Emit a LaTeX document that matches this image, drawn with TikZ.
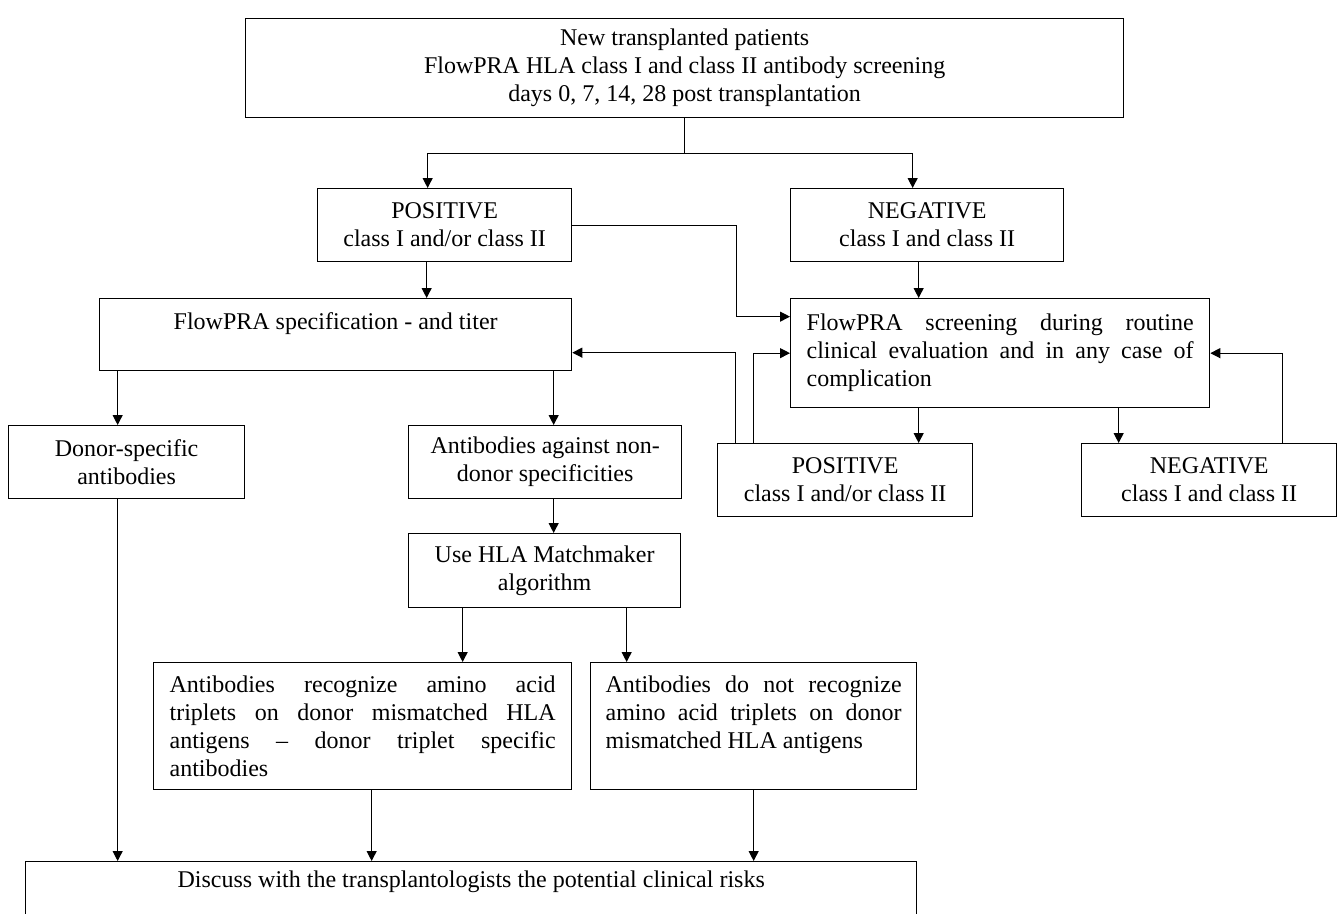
\documentclass[tikz,border=0pt]{standalone}
\usepackage{fontspec}
\setmainfont{Liberation Serif}
\usetikzlibrary{arrows.meta}
\tikzset{
  box/.style={draw, line width=1.3pt, anchor=north west, inner sep=0pt,
    font=\fontsize{24}{28}\selectfont, align=center},
  jbox/.style={box, align=justify, inner ysep=0pt},
  conn/.style={line width=1.1pt},
  arr/.style={conn, -{Triangle[length=10pt,width=10pt]}}
}
\begin{document}
\begin{tikzpicture}[x=1pt,y=-1pt]
\clip (0,0) rectangle (1337,913);
\useasboundingbox (0,0) rectangle (1337,913);
\node[box, minimum width=878, minimum height=99] (top) at (245,18)
  {New transplanted patients\\FlowPRA HLA class I and class II antibody screening\\days 0, 7, 14, 28 post transplantation};
\node[box, minimum width=254, minimum height=73] (pos1) at (317,188) {POSITIVE\\class I and/or class II};
\node[box, minimum width=273, minimum height=73] (neg1) at (790,188) {NEGATIVE\\class I and class II};
\node[box, minimum width=472, minimum height=72] (spec) at (99,298) {FlowPRA specification - and titer\\\mbox{}};
\node[jbox, text width=387pt, inner xsep=16pt, minimum height=109] (scr) at (790,298)
  {FlowPRA screening during routine\linebreak clinical evaluation and in any case of\linebreak complication};
\node[box, minimum width=236, minimum height=73] (don) at (8,425) {Donor-specific\\antibodies};
\node[box, minimum width=273, minimum height=73] (non) at (408,425) {Antibodies against non-\\donor specificities};
\node[box, minimum width=255, minimum height=73] (pos2) at (717,443) {POSITIVE\\class I and/or class II};
\node[box, minimum width=255, minimum height=73] (neg2) at (1081,443) {NEGATIVE\\class I and class II};
\node[box, minimum width=272, minimum height=74] (mm) at (408,533) {Use HLA Matchmaker\\algorithm};
\node[jbox, text width=386pt, inner xsep=16pt, minimum height=127] (recA) at (153,662)
  {Antibodies recognize amino acid\linebreak triplets on donor mismatched HLA\linebreak antigens -- donor triplet specific\linebreak antibodies};
\node[jbox, text width=296pt, inner xsep=15pt, minimum height=127] (recB) at (590,662)
  {Antibodies do not recognize\linebreak amino acid triplets on donor\linebreak mismatched HLA antigens\par\mbox{}};
\node[box, minimum width=891, minimum height=64] (disc) at (25,861)
  {Discuss with the transplantologists the potential clinical risks\\\mbox{}};
% connectors
\draw[conn] (top.south) -- ++(0,35) coordinate (j1);
\draw[arr] (j1) -| ([xshift=-17pt]pos1.north);
\draw[arr] (j1) -| ([xshift=-14.5pt]neg1.north);
\draw[arr] ([xshift=-18pt]pos1.south) -- ([xshift=-18pt]pos1.south |- spec.north);
\draw[arr] (pos1.east) -- ++(164,0) |- ([yshift=36.5pt]scr.west);
\draw[arr] ([xshift=-8.5pt]neg1.south) -- ([xshift=-8.5pt]neg1.south |- scr.north);
\draw[arr] ([xshift=-218pt]spec.south) -- ([xshift=-218pt]spec.south |- don.north);
\draw[arr] ([xshift=218pt]spec.south) -- ([xshift=218pt]spec.south |- non.north);
\draw[arr] ([xshift=-81.5pt]scr.south) -- ([xshift=-81.5pt]scr.south |- pos2.north);
\draw[arr] ([xshift=118.5pt]scr.south) -- ([xshift=118.5pt]scr.south |- neg2.north);
\draw[arr] ([xshift=-109.5pt]pos2.north) |- ([yshift=-18pt]spec.east);
\draw[arr] ([xshift=-91.5pt]pos2.north) |- (scr.west);
\draw[arr] ([xshift=73.5pt]neg2.north) |- (scr.east);
\draw[arr] ([xshift=8.5pt]non.south) -- ([xshift=8.5pt]non.south |- mm.north);
\draw[arr] ([xshift=-82pt]mm.south) -- ([xshift=-82pt]mm.south |- recA.north);
\draw[arr] ([xshift=82pt]mm.south) -- ([xshift=82pt]mm.south |- recB.north);
\draw[arr] ([xshift=9pt]recA.south) -- ([xshift=9pt]recA.south |- disc.north);
\draw[arr] (recB.south) -- (recB.south |- disc.north);
\draw[arr] ([xshift=-9pt]don.south) -- ([xshift=-9pt]don.south |- disc.north);
\end{tikzpicture}
\end{document}
